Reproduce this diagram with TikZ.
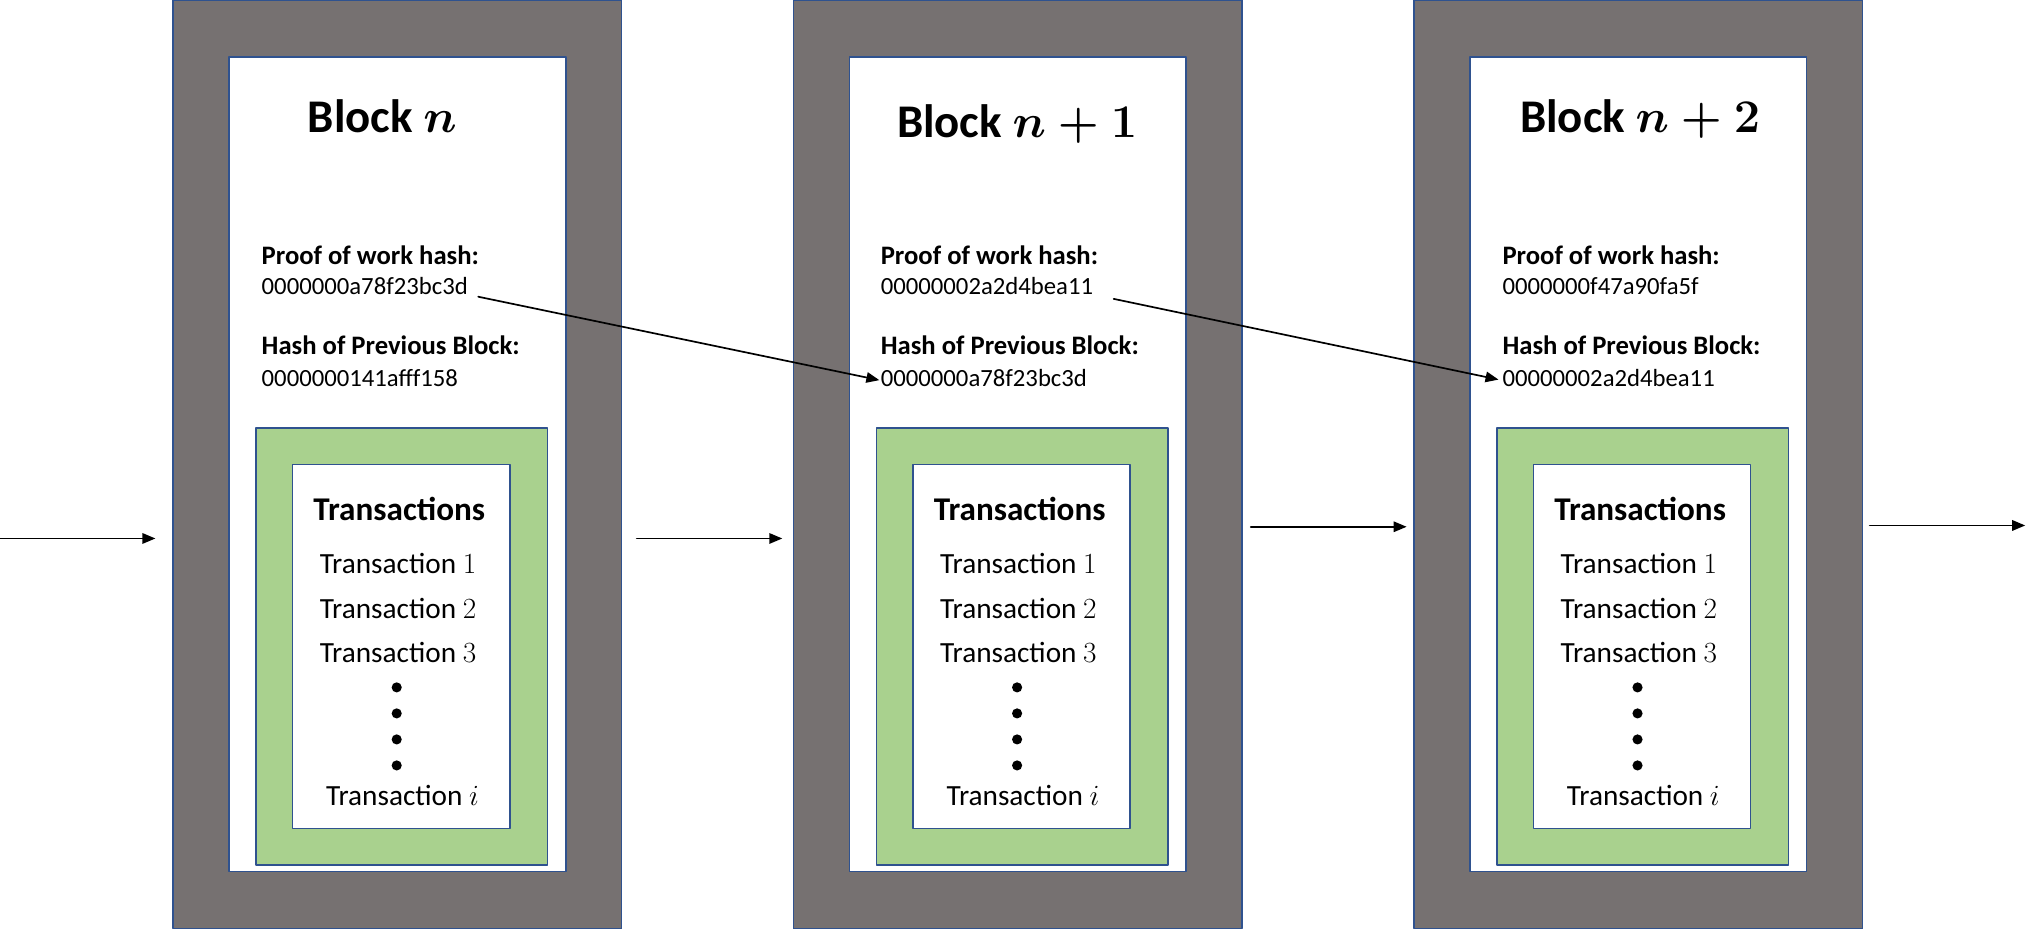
\documentclass[tikz,border=0pt]{standalone}
\usepackage{fix-cm}
\usepackage{amsmath,amssymb}
\usepackage{fontspec}
\setmainfont{Carlito}
\usepackage{xcolor}
\usetikzlibrary{arrows}

\definecolor{boxgray}{HTML}{767171}
\definecolor{boxgreen}{HTML}{A9D18E}
\definecolor{boxline}{HTML}{2F528F}

\tikzset{
  blockbox/.style={draw=boxline,line width=1.2pt,fill=boxgray,minimum width=345pt,minimum height=714pt,inner sep=0pt},
  cardbox/.style={draw=boxline,line width=1.2pt,fill=white,minimum width=259pt,minimum height=626pt,inner sep=0pt},
  greenbox/.style={draw=boxline,line width=1.2pt,fill=boxgreen,minimum width=224pt,minimum height=336pt,inner sep=0pt},
  txbox/.style={draw=boxline,line width=1.2pt,fill=white,minimum width=167pt,minimum height=280pt,inner sep=0pt},
  titletext/.style={anchor=base,inner sep=0pt,font=\fontsize{36}{43}\selectfont\bfseries\boldmath},
  headtext/.style={anchor=base west,inner sep=0pt,font=\fontsize{20.5}{24}\selectfont\bfseries},
  hashtext/.style={anchor=base west,inner sep=0pt,font=\fontsize{19}{23}\selectfont},
  txhead/.style={anchor=base,inner sep=0pt,font=\fontsize{25.5}{30}\selectfont\bfseries},
  txtext/.style={anchor=base,inner sep=0pt,font=\fontsize{22.5}{27}\selectfont},
  link/.style={->,line width=1.3pt},
}

\begin{document}
\begin{tikzpicture}[line cap=round,line join=round,>=triangle 45,x=1pt,y=-1pt]
	\useasboundingbox (0,0) rectangle (1560,715);
	% block n
	\node[blockbox] (blk1) at (305.5,357) {};
	\node[cardbox] (card1) at (305.5,357) {};
	\node[greenbox] (grn1) at (309,497) {};
	\node[txbox] (txs1) at (308.5,497) {};
	\node[titletext] (title1) at (294,102) {Block $n$};
	\node[headtext] (pow1) at (201,203) {Proof of work hash:};
	\node[hashtext] (powv1) at (201,226.5) {0000000a78f23bc3d};
	\node[headtext] (prev1) at (201,272.5) {Hash of Previous Block:};
	\node[hashtext] (prevv1) at (201,297) {0000000141afff158};
	\node[txhead] (txh1) at (307,400) {Transactions};
	\node[txtext] (tx11) at (306,441) {Transaction $1$};
	\node[txtext] (tx21) at (306,475.5) {Transaction $2$};
	\node[txtext] (tx31) at (306,509.5) {Transaction $3$};
	\node[txtext] (txi1) at (309.5,619) {Transaction $i$};
	\fill (305,528.5) circle (3.9);
	\fill (305,548.5) circle (3.9);
	\fill (305,568.5) circle (3.9);
	\fill (305,588.5) circle (3.9);
	% block n+1
	\node[blockbox] (blk2) at (782.5,357) {};
	\node[cardbox] (card2) at (782.5,357) {};
	\node[greenbox] (grn2) at (786,497) {};
	\node[txbox] (txs2) at (785.5,497) {};
	\node[titletext] (title2) at (782,106) {Block $n+1$};
	\node[headtext] (pow2) at (677,203) {Proof of work hash:};
	\node[hashtext] (powv2) at (677,226.5) {00000002a2d4bea11};
	\node[headtext] (prev2) at (677,272.5) {Hash of Previous Block:};
	\node[hashtext] (prevv2) at (677,297) {0000000a78f23bc3d};
	\node[txhead] (txh2) at (784,400) {Transactions};
	\node[txtext] (tx12) at (783,441) {Transaction $1$};
	\node[txtext] (tx22) at (783,475.5) {Transaction $2$};
	\node[txtext] (tx32) at (783,509.5) {Transaction $3$};
	\node[txtext] (txi2) at (786.5,619) {Transaction $i$};
	\fill (782,528.5) circle (3.9);
	\fill (782,548.5) circle (3.9);
	\fill (782,568.5) circle (3.9);
	\fill (782,588.5) circle (3.9);
	% block n+2
	\node[blockbox] (blk3) at (1259.5,357) {};
	\node[cardbox] (card3) at (1259.5,357) {};
	\node[greenbox] (grn3) at (1263,497) {};
	\node[txbox] (txs3) at (1262.5,497) {};
	\node[titletext] (title3) at (1261,102) {Block $n+2$};
	\node[headtext] (pow3) at (1155,203) {Proof of work hash:};
	\node[hashtext] (powv3) at (1155,226.5) {0000000f47a90fa5f};
	\node[headtext] (prev3) at (1155,272.5) {Hash of Previous Block:};
	\node[hashtext] (prevv3) at (1155,297) {00000002a2d4bea11};
	\node[txhead] (txh3) at (1261,400) {Transactions};
	\node[txtext] (tx13) at (1260,441) {Transaction $1$};
	\node[txtext] (tx23) at (1260,475.5) {Transaction $2$};
	\node[txtext] (tx33) at (1260,509.5) {Transaction $3$};
	\node[txtext] (txi3) at (1263.5,619) {Transaction $i$};
	\fill (1259,528.5) circle (3.9);
	\fill (1259,548.5) circle (3.9);
	\fill (1259,568.5) circle (3.9);
	\fill (1259,588.5) circle (3.9);
	% chain
	\coordinate (start) at (0,414);
	\coordinate (end) at (1557,404);
	\draw[link,shorten >=13pt] (start) -- (blk1.west |- start);
	\draw[link,shorten <=11pt,shorten >=8pt] ([yshift=-57pt]blk1.east) -- ([yshift=-57pt]blk2.west);
	\draw[link,shorten <=6pt,shorten >=5pt] ([yshift=-48pt]blk2.east) -- ([yshift=-48pt]blk3.west);
	\draw[link,shorten <=5pt] ([yshift=-47pt]blk3.east) -- (end);
	\draw[link,shorten <=8pt,shorten >=1pt] (powv1.base east) -- ([yshift=-2pt]prevv2.west);
	\draw[link,shorten <=16pt,shorten >=3pt] (powv2.base east) -- ([yshift=-2pt]prevv3.west);
\end{tikzpicture}
\end{document}
